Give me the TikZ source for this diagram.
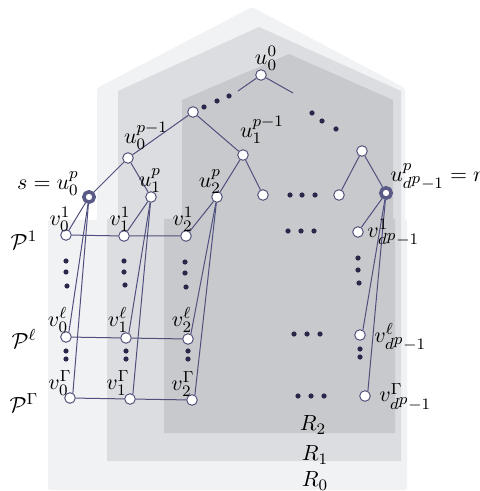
\documentclass[tikz,border=0pt]{standalone}
\usepackage{amsmath}
\definecolor{rzc}{HTML}{F1F2F4}
\definecolor{ronec}{HTML}{DCDDE0}
\definecolor{rtwoc}{HTML}{C8C9CC}
\definecolor{edgec}{HTML}{50507F}
\definecolor{nodec}{HTML}{55557F}
\definecolor{ringc}{HTML}{5A5A86}
\definecolor{dotc}{HTML}{28284A}
\newcommand{\dpm}{d^{\scriptstyle p}-1}
\begin{document}
\begin{tikzpicture}[x=0.5pt,y=-0.5pt,
  font=\fontsize{11}{13}\selectfont,
  vtx/.style={circle,draw=nodec,fill=white,line width=0.5pt,minimum size=5.3pt,inner sep=0pt},
  ringv/.style={circle,draw=ringc,fill=white,line width=1.8pt,minimum size=5.2pt,inner sep=0pt},
  edg/.style={draw=edgec,line width=0.5pt},
  lbl/.style={inner sep=0pt}]
\useasboundingbox (0,0) rectangle (480,491);
% regions
\fill[rzc,rounded corners=1pt] (48,220) -- (97,220) -- (97,88) -- (252,7) -- (405,88) -- (405,220) -- (407,220) -- (407,490) -- (48,490) -- cycle;
\fill[ronec] (107,219) -- (118,219) -- (118,91) -- (259,27) -- (401,91) -- (401,461) -- (107,461) -- cycle;
\fill[rtwoc] (164,219) -- (182,219) -- (182,100) -- (289,54) -- (393,100) -- (393,219) -- (395,219) -- (395,433) -- (164,433) -- cycle;
% vertices
\node[vtx] (u00) at (261,75) {};
\node[vtx] (L) at (193,112) {};
\node[vtx] (u0pm) at (128,158) {};
\node[vtx] (u1pm) at (243,155) {};
\node[ringv] (s) at (89,197) {};
\node[vtx] (u1p) at (151,197) {};
\node[vtx] (u2p) at (217,197) {};
\node[vtx] (n1) at (263,195) {};
\node[vtx] (n2) at (339,195) {};
\node[vtx] (Rn) at (362,151) {};
\node[ringv] (r) at (386,193) {};
\node[vtx] (v01) at (66,235) {};
\node[vtx] (v11) at (124,236) {};
\node[vtx] (v21) at (186,236) {};
\node[vtx] (vd1) at (358,232) {};
\node[vtx] (v0l) at (66,337) {};
\node[vtx] (v1l) at (126,338) {};
\node[vtx] (v2l) at (188,339) {};
\node[vtx] (vdl) at (360,335) {};
\node[vtx] (v0G) at (70,398) {};
\node[vtx] (v1G) at (130,399) {};
\node[vtx] (v2G) at (192,400) {};
\node[vtx] (vdG) at (365,396) {};
\coordinate (a1) at (238,91);
\coordinate (a2) at (293,93);
% edges
\path[edg] (u00) -- (a1);
\path[edg] (u00) -- (a2);
\path[edg] (L) -- (u0pm);
\path[edg] (L) -- (u1pm);
\path[edg] (u0pm) -- (s);
\path[edg] (u0pm) -- (u1p);
\path[edg] (u1pm) -- (u2p);
\path[edg] (u1pm) -- (n1);
\path[edg] (Rn) -- (n2);
\path[edg] (Rn) -- (r);
\path[edg] (s) -- (v01);
\path[edg] (u1p) -- (v11);
\path[edg] (u2p) -- (v21);
\path[edg] (r) -- (vd1);
\path[edg] (v01) -- (v11) -- (v21);
\path[edg] (v0l) -- (v1l) -- (v2l);
\path[edg] (v0G) -- (v1G) -- (v2G);
\path[edg] (s) -- (v0l.60);
\path[edg] (s) -- (v0G.60);
\path[edg] (u1p) -- (v1l.60);
\path[edg] (u1p) -- (v1G.60);
\path[edg] (u2p) -- (v2l.60);
\path[edg] (u2p) -- (v2G.60);
\path[edg] (r) -- (vdl.60);
\path[edg] (r) -- (vdG.60);
% dots
\foreach \p in {(204,107),(217,101),(229,96),(312,113),(322,121),(336,129),
  (290,195),(302,195),(315,195),(288,231),(301,231),(314,231),
  (294,334),(307,334),(320,334),(298,396),(311,396),(324,396),
  (66,261),(66,272),(67,286),(124,261),(124,272),(125,285),
  (185,262),(185,273),(186,287),(358,258),(358,270),(359,283),
  (66,351),(66,359),(126,351),(126,359),(188,351),(188,359),
  (360,349),(360,357)}
  \fill[dotc] \p circle (1.3pt);
% labels
\node[lbl] (lu00) at (266,58) {$u_0^0$};
\node[lbl] (lu0pm) at (146,136) {$u_0^{p-1}$};
\node[lbl] (lu1pm) at (262,130) {$u_1^{p-1}$};
\node[lbl] (ls) at (48,184) {$s=u_0^p$};
\node[lbl] (lu1p) at (150,181) {$u_1^p$};
\node[lbl] (lu2p) at (210,182) {$u_2^p$};
\node[lbl,anchor=west] (lr) at (390,177) {$u_{\dpm}^p=r$};
\node[lbl] (lv01) at (60,219) {$v_0^1$};
\node[lbl] (lv11) at (120,219) {$v_1^1$};
\node[lbl] (lv21) at (183,219) {$v_2^1$};
\node[lbl,anchor=west] (lvd1) at (367,233) {$v_{\dpm}^1$};
\node[lbl] (lv0l) at (58,320) {$v_0^\ell$};
\node[lbl] (lv1l) at (118,320) {$v_1^\ell$};
\node[lbl] (lv2l) at (182,320) {$v_2^\ell$};
\node[lbl,anchor=west] (lvdl) at (374,337) {$v_{\dpm}^\ell$};
\node[lbl] (lv0G) at (60,383) {$v_0^\Gamma$};
\node[lbl] (lv1G) at (118,383) {$v_1^\Gamma$};
\node[lbl] (lv2G) at (183,384) {$v_2^\Gamma$};
\node[lbl,anchor=west] (lvdG) at (379,397) {$v_{\dpm}^\Gamma$};
\node[lbl] (lP1) at (24,240) {$\mathcal{P}^1$};
\node[lbl] (lPl) at (24,339) {$\mathcal{P}^\ell$};
\node[lbl] (lPG) at (24,403) {$\mathcal{P}^\Gamma$};
\node[lbl] (lR2) at (313,425) {$R_2$};
\node[lbl] (lR1) at (315,455) {$R_1$};
\node[lbl] (lR0) at (315,481) {$R_0$};
\end{tikzpicture}
\end{document}
